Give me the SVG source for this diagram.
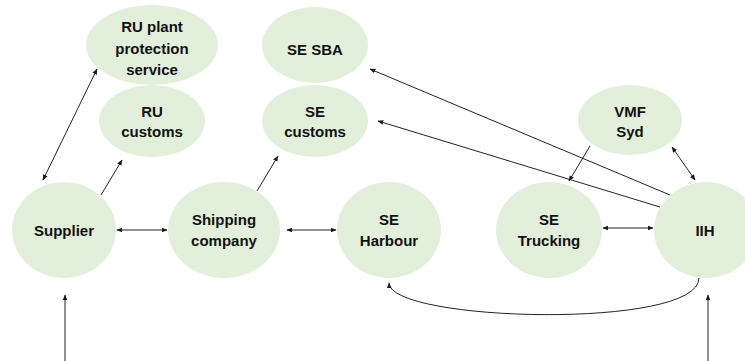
<svg xmlns="http://www.w3.org/2000/svg" width="745" height="361" viewBox="0 0 745 361">
  <defs>
    <marker id="arrow" viewBox="0 0 10 10" refX="9" refY="5" markerWidth="6" markerHeight="6" markerUnits="userSpaceOnUse" orient="auto-start-reverse">
      <path d="M0,1 L10,5 L0,9 z" fill="#1a1a1a"/>
    </marker>
    <style>
      .node { fill: #e2efda; }
      .label { font-family: "Liberation Sans", Arial, sans-serif; font-weight: bold; font-size: 15px; fill: #111; text-anchor: middle; }
      .edge { stroke: #222; stroke-width: 1; fill: none; }
      .one { marker-end: url(#arrow); }
      .two { marker-start: url(#arrow); marker-end: url(#arrow); }
    </style>
  </defs>
  <rect width="745" height="361" fill="#ffffff"/>

  <g id="connectors">
    <line class="edge two" x1="43" y1="180" x2="97" y2="69"/>
    <line class="edge one" x1="101" y1="195" x2="122" y2="160"/>
    <line class="edge one" x1="257" y1="191" x2="278" y2="156"/>
    <line class="edge two" x1="117" y1="230" x2="167" y2="230"/>
    <line class="edge two" x1="287" y1="230" x2="336" y2="230"/>
    <line class="edge two" x1="603" y1="228" x2="653" y2="228"/>
    <line class="edge one" x1="670" y1="195" x2="370" y2="69"/>
    <line class="edge one" x1="660" y1="207" x2="378" y2="121"/>
    <line class="edge one" x1="590" y1="146" x2="569" y2="181"/>
    <line class="edge two" x1="672" y1="147" x2="695" y2="180"/>
    <path class="edge one" d="M699,278 C699,330 390,322 389,283"/>
    <line class="edge one" x1="65" y1="361" x2="65" y2="295"/>
    <line class="edge one" x1="708" y1="361" x2="708" y2="295"/>
  </g>

  <g id="ru-plant-protection">
    <ellipse class="node" cx="152" cy="45" rx="66" ry="40"/>
    <text class="label" x="152" y="32">RU plant</text>
    <text class="label" x="152" y="54">protection</text>
    <text class="label" x="152" y="75">service</text>
  </g>
  <g id="ru-customs">
    <ellipse class="node" cx="152" cy="121" rx="53" ry="36"/>
    <text class="label" x="152" y="117">RU</text>
    <text class="label" x="152" y="137">customs</text>
  </g>
  <g id="se-sba">
    <ellipse class="node" cx="315" cy="45" rx="53" ry="38"/>
    <text class="label" x="315" y="55">SE SBA</text>
  </g>
  <g id="se-customs">
    <ellipse class="node" cx="315" cy="121" rx="53" ry="36"/>
    <text class="label" x="315" y="117">SE</text>
    <text class="label" x="315" y="137">customs</text>
  </g>
  <g id="vmf-syd">
    <ellipse class="node" cx="630" cy="120" rx="52" ry="35"/>
    <text class="label" x="630" y="117">VMF</text>
    <text class="label" x="630" y="137">Syd</text>
  </g>
  <g id="supplier">
    <ellipse class="node" cx="64" cy="230" rx="52" ry="48"/>
    <text class="label" x="64" y="236">Supplier</text>
  </g>
  <g id="shipping-company">
    <ellipse class="node" cx="224" cy="230" rx="56" ry="48"/>
    <text class="label" x="224" y="225">Shipping</text>
    <text class="label" x="224" y="246">company</text>
  </g>
  <g id="se-harbour">
    <ellipse class="node" cx="389" cy="230" rx="52" ry="48"/>
    <text class="label" x="389" y="225">SE</text>
    <text class="label" x="389" y="246">Harbour</text>
  </g>
  <g id="se-trucking">
    <ellipse class="node" cx="549" cy="230" rx="53" ry="48"/>
    <text class="label" x="549" y="225">SE</text>
    <text class="label" x="549" y="246">Trucking</text>
  </g>
  <g id="iih">
    <ellipse class="node" cx="706" cy="230" rx="52" ry="48"/>
    <text class="label" x="705" y="236">IIH</text>
  </g>
</svg>
